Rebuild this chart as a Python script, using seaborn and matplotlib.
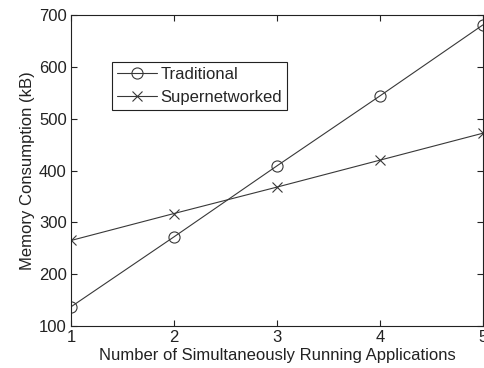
import numpy as np
import pandas as pd
import matplotlib
matplotlib.use("Agg")
import matplotlib.pyplot as plt
import seaborn as sns

apps = [1, 2, 3, 4, 5]
traditional = [137, 272, 409, 544, 681]
supernetworked = [265, 317, 368, 420, 472]

sns.set_theme(style="ticks")
plt.rcParams['font.family'] = ['Liberation Sans', 'DejaVu Sans']

fig = plt.figure(figsize=(4.84, 3.68), dpi=100)
ax = fig.add_axes([71 / 484, 42 / 368, 412 / 484, 311 / 368])

line_col = "#383838"
sns.lineplot(x=apps, y=traditional, color=line_col, linewidth=0.8, marker="o", markersize=8,
             markerfacecolor="none", markeredgecolor=line_col, markeredgewidth=0.8,
             label="Traditional", ax=ax)
sns.lineplot(x=apps, y=supernetworked, color=line_col, linewidth=0.8, marker="x", markersize=6.5,
             markeredgecolor=line_col, markeredgewidth=0.8, label="Supernetworked", ax=ax)

ax.set_xlim(1, 5)
ax.set_ylim(100, 700)
ax.set_xticks([1, 2, 3, 4, 5])
ax.set_yticks([100, 200, 300, 400, 500, 600, 700])
ax.tick_params(direction="in", length=4, width=0.8, labelsize=12, colors="#222222",
               top=True, right=True, pad=3)
for s in ax.spines.values():
    s.set_linewidth(0.8)
    s.set_color("#222222")
ax.set_xlabel("Number of Simultaneously Running Applications", fontsize=12, labelpad=2, color="#222222")
ax.set_ylabel("Memory Consumption (kB)", fontsize=12, labelpad=3, color="#222222")

leg = ax.legend(loc="upper left", bbox_to_anchor=(0.1, 0.85), fontsize=12, frameon=True,
                fancybox=False, edgecolor="#222222", framealpha=1, handlelength=2.4,
                handletextpad=0.2, borderpad=0.3, labelspacing=0.5, borderaxespad=0)
leg.get_frame().set_linewidth(0.8)

fig.savefig("out.png", dpi=100)
